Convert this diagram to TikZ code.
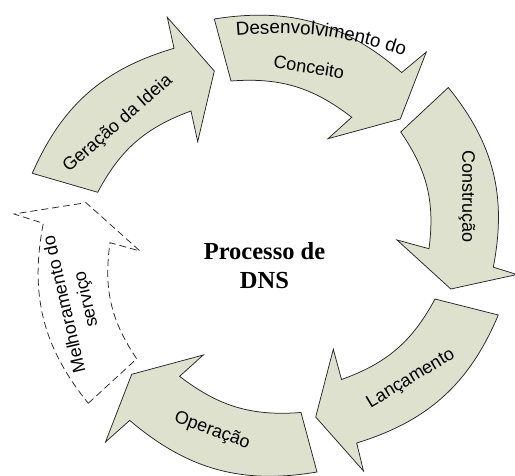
\documentclass[tikz,border=0pt]{standalone}
\usepackage{fontspec}
\setmainfont{Liberation Serif}
\setsansfont{Liberation Sans}
\usetikzlibrary{decorations.text}
\definecolor{ringfill}{RGB}{221,225,206}
\newcommand\stagefont{\sffamily\fontsize{18}{22}\selectfont}
\newcommand\widestagefont{\sffamily\fontsize{18.8}{22}\selectfont}

\begin{document}
\begin{tikzpicture}[x=1pt,y=1pt,
  stage/.style={draw=black!85, line width=0.75pt, fill=ringfill, line join=miter},
  pending/.style={draw=black!85, line width=0.75pt, dash pattern=on 7pt off 4pt, fill=white},
  stagelabel/.style={font=\stagefont, inner sep=0pt, align=center},
  hub/.style={font=\bfseries\fontsize{24.5}{29.5}\selectfont, align=center, inner sep=0pt}]

\useasboundingbox (0,0) rectangle (515,475);

% Geracao da Ideia
\draw[stage] (32.3,301.7) -- (97.7,282.7) to[bend left=21] (191,364)
  -- (197.7,333.3) -- (214.3,404) -- (167.3,457.7) -- (174,426.7)
  to[bend right=25] (32.3,301.7) -- cycle;

% Desenvolvimento do Conceito
\draw[stage] (214.3,456) -- (231,394) to[bend left=21] (351.7,357.7)
  -- (328,336.3) -- (400.3,356) -- (426.3,423) -- (401.7,402.5)
  to[bend right=25] (214.3,456) -- cycle;

% Construcao
\draw[stage] (448.3,387.5) -- (400.7,343) to[bend left=21] (429,226.3)
  -- (397,235) -- (450.8,186) -- (517,200.5) -- (493.3,207.8)
  to[bend right=25] (448.3,387.5) -- cycle;

% Lancamento
\draw[stage] (498.3,160) -- (435,176) to[bend left=21] (341.5,95.5)
  -- (333.3,125.8) -- (315.7,58) -- (363.5,4) -- (356.7,32)
  to[bend right=25] (498.3,160) -- cycle;

% Operacao
\draw[stage] (317,3) -- (301,62.5) to[bend left=21] (179.6,98.7)
  -- (203.3,120) -- (131.7,100.7) -- (105.5,33) -- (129.7,54.6)
  to[bend right=25] (317,3) -- cycle;

% Melhoramento do servico (not yet in place: dashed outline)
\draw[pending] (88.3,71.7) -- (136.7,116.2) to[bend left=21] (110,232.3)
  -- (140,224) -- (86,272.3) -- (14,261) -- (43.3,251.7)
  to[bend right=25] (88.3,71.7) -- cycle;

% stage labels
\node[stagelabel, rotate=41] (ideia) at (118,351) {Geração da Ideia};
\path[decorate, decoration={text along path, text align=center,
  text={|\widestagefont|Desenvolvimento do}}] (233,439) to[bend left=12] (407,418);
\node[stagelabel, rotate=-9] (conceito) at (309,408) {Conceito};
\node[stagelabel, rotate=-90] (construcao) at (467,278.3) {Construção};
\node[stagelabel, rotate=31] (lancamento) at (411,96) {Lançamento};
\node[stagelabel, rotate=-20] (operacao) at (212,44) {Operação};
\node[stagelabel, rotate=103] (melhoramento) at (76,173.4) {Melhoramento do\\serviço};

% centre title
\node[hub] (titulo) at (264.5,209.2) {Processo de\\DNS};
\end{tikzpicture}
\end{document}
